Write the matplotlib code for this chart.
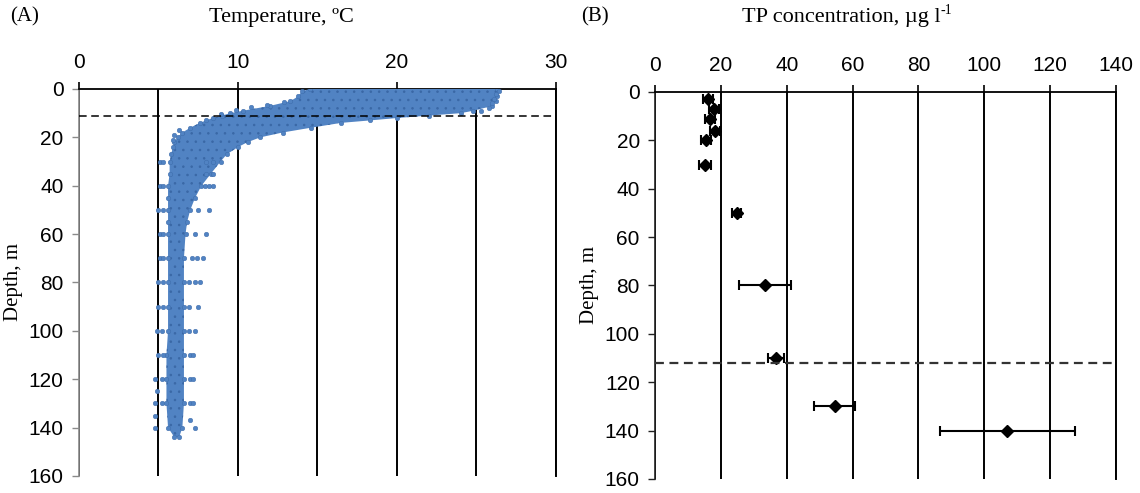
import matplotlib
matplotlib.use("Agg")
import matplotlib.pyplot as plt
from matplotlib.ticker import MultipleLocator

plt.rcParams['font.family'] = ['Liberation Sans', 'DejaVu Sans']
plt.rcParams['hatch.linewidth'] = 0.6

# (A) temperature profiles - envelope of the point cloud
depth_env = [0, 1, 3, 5, 7, 9, 10, 11, 12, 13, 14, 16, 18, 20, 22, 24, 27, 30,
             35, 40, 45, 50, 55, 60, 70, 80, 90, 100, 110, 120, 130, 140, 144]
t_min = [14.5, 14.0, 13.8, 13.3, 12.0, 10.3, 9.5, 9.0, 8.4, 8.0, 7.6, 7.0, 6.5,
         6.2, 6.0, 5.9, 5.8, 5.7, 5.7, 5.6, 5.6, 5.6, 5.6, 5.6, 5.6, 5.6, 5.6,
         5.6, 5.5, 5.5, 5.5, 5.6, 6.0]
t_max = [26.3, 26.4, 26.3, 26.2, 26.0, 24.8, 24.0, 22.0, 20.0, 18.3, 16.5, 14.6,
         12.8, 11.4, 10.6, 10.0, 9.3, 8.9, 8.3, 7.7, 7.3, 7.0, 6.8, 6.7, 6.6,
         6.6, 6.6, 6.6, 6.6, 6.6, 6.6, 6.5, 6.3]

# scattered single readings outside the main cloud
out_t = [5.1, 5.3, 8.0, 8.4, 8.0, 8.4, 5.1, 5.3, 7.9, 8.2, 8.4,
         5.0, 5.3, 7.5, 8.2, 5.1, 5.3, 7.3, 8.0, 5.1, 5.3, 7.1, 7.4, 7.8,
         5.0, 5.3, 6.9, 7.3, 7.6, 5.0, 5.3, 6.9, 7.5, 4.9, 5.2, 6.9, 7.3,
         5.0, 5.3, 7.0, 7.2, 4.8, 5.2, 7.0, 7.2, 4.9, 4.8, 5.2, 7.0, 7.2,
         4.8, 4.8, 7.0, 7.3,
         26.2, 26.1, 26.0, 25.8, 25.3,
         12.9, 11.8, 10.8, 9.9, 8.9, 6.3, 6.0, 5.9]
out_d = [30, 30, 30, 30, 35, 35, 40, 40, 40, 40, 40,
         50, 50, 50, 50, 60, 60, 60, 60, 70, 70, 70, 70, 70,
         80, 80, 80, 80, 80, 90, 90, 90, 90, 100, 100, 100, 100,
         110, 110, 110, 110, 120, 120, 120, 120, 125, 130, 130, 130, 130,
         135, 140, 137, 140,
         2, 4, 6, 8, 9,
         5.5, 6.5, 7.5, 8.5, 10.5, 17, 19, 21]
thermocline = 11

# (B) TP concentration
tp_depth = [3, 7, 11, 16, 20, 30, 50, 80, 110, 130, 140]
tp_mean = [16.1, 17.9, 16.7, 18.2, 15.5, 15.2, 24.8, 33.4, 36.8, 54.5, 107.0]
tp_err = [1.5, 1.5, 1.5, 1.5, 1.5, 1.7, 1.4, 8.0, 2.5, 6.1, 20.6]
tp_line = 112

blue = '#5183c3'
dots = '#3a68a6'
fig = plt.figure(figsize=(11.4, 4.93), dpi=100)
ax1 = fig.add_axes([0.0693, 0.0345, 0.4184, 0.785])
ax2 = fig.add_axes([0.5746, 0.0284, 0.4044, 0.785])

# left panel
ax1.fill_betweenx(depth_env, t_min, t_max, facecolor=blue, edgecolor=dots,
                  hatch='..', linewidth=0, zorder=3)
ax1.scatter(t_min + t_max + out_t, depth_env + depth_env + out_d, s=11,
            color=blue, edgecolors=dots, linewidths=0.3, zorder=4)
ax1.axhline(thermocline, color='black', ls=(0, (5, 3)), lw=1.1, zorder=5)
ax1.set_xlim(0, 30)
ax1.xaxis.set_major_locator(MultipleLocator(10))
ax1.xaxis.set_minor_locator(MultipleLocator(5))
ax1.grid(axis='x', which='both', color='black', lw=1.4, zorder=1)

# right panel
ax2.errorbar(tp_mean, tp_depth, xerr=tp_err, fmt='D', color='black', ms=6,
             ecolor='black', elinewidth=1.5, capsize=3.5, capthick=1.5, zorder=4)
ax2.axhline(tp_line, color='#333333', ls=(0, (4, 2.5)), lw=1.6, zorder=5)
ax2.set_xlim(0, 140)
ax2.xaxis.set_major_locator(MultipleLocator(20))
ax2.grid(axis='x', which='major', color='black', lw=1.4, zorder=1)

for ax, ycol in [(ax1, '#8a8a8a'), (ax2, '#222222')]:
    ax.set_ylim(160, 0)
    ax.yaxis.set_major_locator(MultipleLocator(20))
    ax.xaxis.tick_top()
    ax.tick_params(axis='x', which='major', direction='out', length=5, width=1.2,
                   labelsize=15, pad=7, colors='black')
    ax.tick_params(axis='x', which='minor', length=0)
    ax.tick_params(axis='y', direction='out', length=5, width=1, labelsize=15,
                   pad=6, color=ycol, labelcolor='black')
    ax.spines['bottom'].set_visible(False)
    ax.spines['right'].set_color('black')
    ax.spines['right'].set_linewidth(1.4)
    ax.spines['top'].set_linewidth(1.3)
    ax.spines['left'].set_color(ycol)
    ax.spines['left'].set_linewidth(1.2)
    ax.set_axisbelow(True)
    ax.set_ylabel('Depth, m', family='Liberation Serif', fontsize=15, labelpad=4)

fig.text(0.009, 0.965, '(A)', family='Liberation Serif', fontsize=15, va='center')
fig.text(0.51, 0.965, '(B)', family='Liberation Serif', fontsize=15, va='center')
fig.text(0.247, 0.965, 'Temperature, \u00baC', family='Liberation Serif',
         fontsize=16, ha='center', va='center')
fig.text(0.825, 0.965, 'TP concentration, \u00b5g l', family='Liberation Serif',
         fontsize=16, ha='right', va='center')
fig.text(0.825, 0.978, '-1', family='Liberation Serif', fontsize=10,
         ha='left', va='center')

fig.savefig('out.png', dpi=100)
